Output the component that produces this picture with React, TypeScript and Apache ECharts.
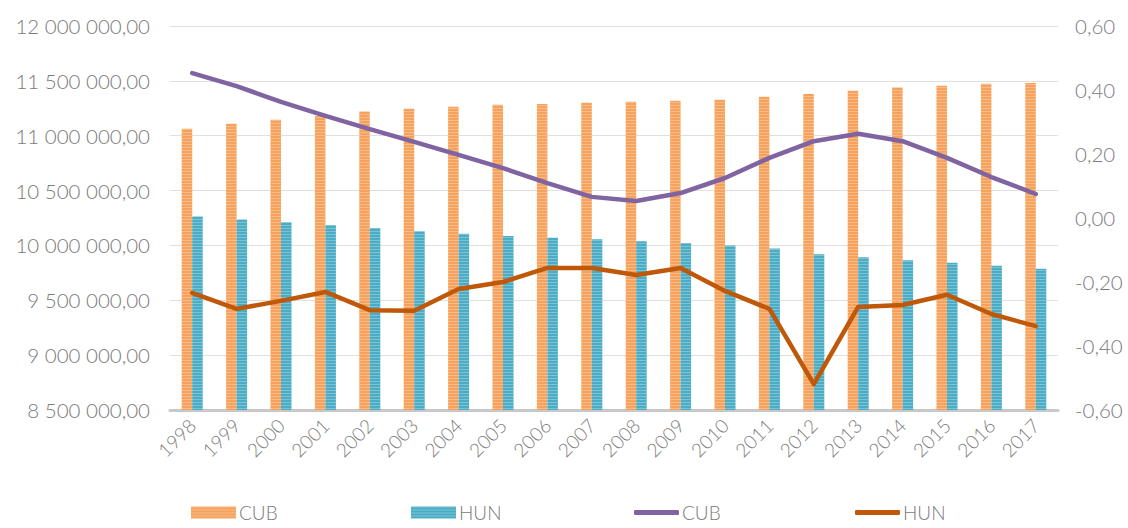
import React, { useEffect, useRef } from "react";
import * as echarts from "echarts";

const years = ["1998","1999","2000","2001","2002","2003","2004","2005","2006","2007","2008","2009","2010","2011","2012","2013","2014","2015","2016","2017"];
const cubPop = [11064000,11110000,11145000,11180000,11220000,11245000,11264000,11282000,11290000,11300000,11310000,11318000,11327000,11355000,11380000,11410000,11440000,11455000,11473000,11480000];
const hunPop = [10264000,10236000,10211000,10187000,10159000,10130000,10107000,10087000,10071000,10056000,10038000,10023000,10000000,9972000,9920000,9893000,9866000,9843000,9814000,9788000];
const cubGrowth = [0.453,0.412,0.363,0.319,0.278,0.238,0.197,0.156,0.109,0.066,0.053,0.078,0.125,0.188,0.24,0.263,0.24,0.188,0.128,0.075];
const hunGrowth = [-0.234,-0.284,-0.259,-0.231,-0.288,-0.29,-0.222,-0.2,-0.156,-0.156,-0.178,-0.156,-0.228,-0.284,-0.519,-0.278,-0.272,-0.24,-0.3,-0.338];

const FONT = "Lato";
const GRAY = "#7a7a7a";
const W = 300;

function fmtLeft(v: number) {
  const s = Math.round(v).toString().replace(/\B(?=(\d{3})+(?!\d))/g, " ");
  return s + ",00";
}
function fmtRight(v: number) {
  return v.toFixed(2).replace(".", ",");
}

export default function App() {
  const ref = useRef<HTMLDivElement>(null);
  useEffect(() => {
    if (!ref.current) return;
    const chart = echarts.init(ref.current, null, { renderer: "svg" });
    const stripe = (c: string) => ({
      symbol: "rect",
      symbolSize: 1,
      dashArrayX: [1, 0],
      dashArrayY: [1, 2],
      color: c,
      rotation: 0,
    });
    const legendBase = {
      top: 501,
      itemWidth: 45,
      itemHeight: 12,
      itemGap: 0,
      padding: [2, 5, 2, 5],
      textStyle: { fontFamily: FONT, fontWeight: W, fontSize: 19, color: GRAY, padding: [0, 0, 0, -2] },
    };
    chart.setOption({
      animation: false,
      textStyle: { fontFamily: FONT },
      grid: { left: 170, right: 70, top: 26, bottom: 118 },
      legend: [
        { ...legendBase, left: 186, data: [{ name: "CUB", icon: "rect" }] },
        { ...legendBase, left: 406, data: [{ name: "HUN", icon: "rect" }] },
        { ...legendBase, left: 629, data: [{ name: "CUB ", icon: "roundRect", itemStyle: { color: "#8064A2" } }], itemHeight: 5 },
        { ...legendBase, left: 850, data: [{ name: "HUN ", icon: "roundRect", itemStyle: { color: "#C0580A" } }], itemHeight: 5 },
      ],
      xAxis: {
        type: "category",
        data: years,
        axisLine: { onZero: false, lineStyle: { color: "#c8c8c8", width: 3 } },
        axisTick: { show: false },
        axisLabel: { rotate: 45, fontFamily: FONT, fontWeight: W, fontSize: 19, color: GRAY, margin: 12 },
      },
      yAxis: [
        {
          type: "value",
          min: 8500000,
          max: 12000000,
          interval: 500000,
          axisLine: { show: false },
          axisTick: { show: false },
          splitLine: { lineStyle: { color: "#e0e0e0", width: 1 } },
          axisLabel: { formatter: fmtLeft, fontFamily: FONT, fontWeight: W, fontSize: 20.5, color: GRAY, margin: 20 },
        },
        {
          type: "value",
          min: -0.6,
          max: 0.6,
          interval: 0.2,
          axisLine: { show: false },
          axisTick: { show: false },
          splitLine: { show: false },
          axisLabel: { formatter: fmtRight, fontFamily: FONT, fontWeight: W, fontSize: 20.5, color: GRAY, margin: 17 },
        },
      ],
      series: [
        {
          name: "CUB",
          type: "bar",
          data: cubPop,
          barWidth: 10.5,
          barGap: "0%",
          itemStyle: { color: "#F7A25C", decal: stripe("rgba(255,255,255,0.28)") },
        },
        {
          name: "HUN",
          type: "bar",
          data: hunPop,
          barWidth: 10.5,
          barGap: "0%",
          itemStyle: { color: "#4BACC6", decal: stripe("rgba(255,255,255,0.28)") },
        },
        {
          name: "CUB ",
          type: "line",
          yAxisIndex: 1,
          data: cubGrowth,
          symbol: "none",
          lineStyle: { color: "#8064A2", width: 4.5, cap: "round", join: "round" },
          itemStyle: { color: "#8064A2" },
        },
        {
          name: "HUN ",
          type: "line",
          yAxisIndex: 1,
          data: hunGrowth,
          symbol: "none",
          lineStyle: { color: "#C0580A", width: 4.5, cap: "round", join: "round" },
          itemStyle: { color: "#C0580A" },
        },
      ],
    });
    return () => chart.dispose();
  }, []);
  return (
    <div
      ref={ref}
      style={{ position: "absolute", left: 0, top: 0, width: 1128, height: 528, background: "#fff" }}
    />
  );
}
